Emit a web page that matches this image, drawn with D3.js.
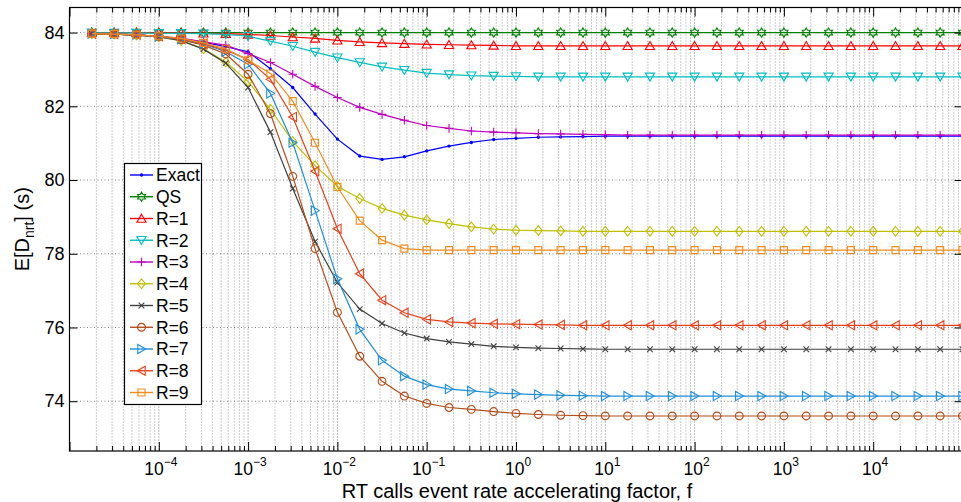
<!DOCTYPE html>
<html>
<head>
<meta charset="utf-8">
<script src="https://cdn.jsdelivr.net/npm/d3@7"></script>
<style>
  html, body { margin: 0; padding: 0; background: #fff; }
  svg { display: block; font-family: "Liberation Sans", Arial, Helvetica, sans-serif; }
</style>
</head>
<body>
<svg id="chart" width="961" height="502"></svg>
<script>
// Accelerating factor f, as base-10 exponents (one point every quarter decade)
const fExp = [-4.75,-4.5,-4.25,-4,-3.75,-3.5,-3.25,-3,-2.75,-2.5,
              -2.25,-2,-1.75,-1.5,-1.25,-1,-0.75,-0.5,-0.25,0,
              0.25,0.5,0.75,1,1.25,1.5,1.75,2,2.25,2.5,
              2.75,3,3.25,3.5,3.75,4,4.25,4.5,4.75,5];

// E[D_nrt] in seconds, one array per curve
const exact = [83.97,83.96,83.94,83.90,83.83,83.74,83.62,83.48,83.02,82.51,
               81.79,81.11,80.65,80.56,80.63,80.79,80.92,81.02,81.10,81.13,
               81.16,81.17,81.18,81.19,81.19,81.19,81.19,81.19,81.19,81.19,
               81.19,81.19,81.19,81.19,81.19,81.19,81.19,81.19,81.19,81.19];
const qs    = [84.00,84.00,84.00,84.00,84.00,84.00,84.00,84.00,84.00,84.00,
               84.00,84.00,84.00,84.00,84.00,84.00,84.00,84.00,84.00,84.00,
               84.00,84.00,84.00,84.00,84.00,84.00,84.00,84.00,84.00,84.00,
               84.00,84.00,84.00,84.00,84.00,84.00,84.00,84.00,84.00,84.00];
const r1    = [84.00,84.00,84.00,83.99,83.99,83.98,83.97,83.95,83.92,83.88,
               83.84,83.79,83.75,83.72,83.70,83.68,83.67,83.66,83.65,83.64,
               83.64,83.64,83.64,83.64,83.64,83.64,83.64,83.64,83.64,83.64,
               83.64,83.64,83.64,83.64,83.64,83.64,83.64,83.64,83.64,83.64];
const r2    = [83.99,83.99,83.99,83.98,83.98,83.97,83.95,83.90,83.77,83.63,
               83.47,83.32,83.19,83.07,82.98,82.90,82.86,82.83,82.82,82.81,
               82.80,82.80,82.80,82.80,82.80,82.80,82.80,82.80,82.80,82.80,
               82.80,82.80,82.80,82.80,82.80,82.80,82.80,82.80,82.80,82.80];
const r3    = [83.97,83.96,83.94,83.90,83.85,83.75,83.66,83.43,83.19,82.87,
               82.54,82.24,81.97,81.78,81.62,81.48,81.40,81.33,81.30,81.28,
               81.26,81.25,81.24,81.23,81.22,81.22,81.22,81.22,81.22,81.22,
               81.22,81.22,81.22,81.22,81.22,81.22,81.22,81.22,81.22,81.22];
const r4    = [83.97,83.96,83.93,83.88,83.78,83.56,83.20,82.67,81.92,81.05,
               80.39,79.83,79.50,79.23,79.05,78.92,78.82,78.73,78.67,78.64,
               78.63,78.62,78.61,78.61,78.61,78.61,78.61,78.61,78.61,78.61,
               78.61,78.61,78.61,78.61,78.61,78.61,78.61,78.61,78.61,78.61];
const r5    = [83.97,83.96,83.93,83.88,83.78,83.55,83.17,82.51,81.30,79.77,
               78.33,77.22,76.50,76.11,75.85,75.70,75.61,75.55,75.49,75.46,
               75.44,75.43,75.42,75.41,75.41,75.41,75.41,75.41,75.41,75.41,
               75.41,75.41,75.41,75.41,75.41,75.41,75.41,75.41,75.41,75.41];
const r6    = [83.97,83.96,83.94,83.89,83.81,83.66,83.42,82.87,81.80,80.10,
               78.14,76.41,75.22,74.54,74.14,73.94,73.83,73.78,73.72,73.67,
               73.64,73.62,73.61,73.60,73.60,73.60,73.60,73.60,73.60,73.60,
               73.60,73.60,73.60,73.60,73.60,73.60,73.60,73.60,73.60,73.60];
const r7    = [83.97,83.96,83.94,83.89,83.82,83.69,83.48,83.14,82.35,81.01,
               79.17,77.32,75.95,75.11,74.68,74.45,74.33,74.28,74.23,74.20,
               74.18,74.16,74.15,74.14,74.14,74.14,74.14,74.14,74.14,74.14,
               74.14,74.14,74.14,74.14,74.14,74.14,74.14,74.14,74.14,74.14];
const r8    = [83.97,83.96,83.94,83.90,83.83,83.70,83.52,83.27,82.73,81.71,
               80.24,78.68,77.46,76.74,76.40,76.22,76.15,76.12,76.10,76.09,
               76.08,76.07,76.06,76.06,76.06,76.06,76.06,76.06,76.06,76.06,
               76.06,76.06,76.06,76.06,76.06,76.06,76.06,76.06,76.06,76.06];
const r9    = [83.97,83.96,83.94,83.90,83.84,83.72,83.56,83.25,82.89,82.14,
               81.01,79.81,78.90,78.37,78.14,78.10,78.10,78.10,78.10,78.10,
               78.10,78.10,78.10,78.10,78.10,78.10,78.10,78.10,78.10,78.10,
               78.10,78.10,78.10,78.10,78.10,78.10,78.10,78.10,78.10,78.10];

const seriesNames  = ["Exact","QS","R=1","R=2","R=3","R=4","R=5","R=6","R=7","R=8","R=9"];
const seriesValues = [exact, qs, r1, r2, r3, r4, r5, r6, r7, r8, r9];

// Axis ticks
const xTickExp = [-4,-3,-2,-1,0,1,2,3,4];
const yTicks   = [74,76,78,80,82,84];
const xLabel = "RT calls event rate accelerating factor, f";

// Per-curve styling
const colors  = ["#0000ff","#008000","#ff0000","#00bfbf","#bf00bf","#bfbf00",
                 "#404040","#b34d1a","#1f8fd6","#e6401a","#f08c1a"];
const markers = ["dot","hexagram","triUp","triDown","plus","diamond",
                 "cross","circle","triRight","triLeft","square"];

// ---------- layout ----------
const svg = d3.select("#chart");
const L = 69.5, R = 962.5, T = 7.5, B = 451;

const x = d3.scaleLog().domain([1e-5, 1e5]).range([L, R]);
const y = d3.scaleLinear().domain([72.65, 84.68]).range([B, T]);

// marker outlines, centred on the origin
function circlePath(r) {
  return `M${r},0A${r},${r} 0 1,1 ${-r},0A${r},${r} 0 1,1 ${r},0Z`;
}
function markerPath(type) {
  switch (type) {
    case "dot":      return circlePath(1.7);
    case "circle":   return circlePath(3.9);
    case "square":   return "M-3.5,-3.5H3.5V3.5H-3.5Z";
    case "diamond":  return "M0,-4.8L3.8,0L0,4.8L-3.8,0Z";
    case "triUp":    return "M0,-4.3L4.6,3.7L-4.6,3.7Z";
    case "triDown":  return "M0,4.3L4.6,-3.7L-4.6,-3.7Z";
    case "triLeft":  return "M-4.3,0L3.7,4.6L3.7,-4.6Z";
    case "triRight": return "M4.3,0L-3.7,4.6L-3.7,-4.6Z";
    case "plus":     return "M-4.3,0H4.3M0,-4.3V4.3";
    case "cross":    return "M-2.8,-2.8L2.8,2.8M-2.8,2.8L2.8,-2.8";
    case "hexagram": {
      const pts = [];
      for (let k = 0; k < 12; k++) {
        const r = k % 2 === 0 ? 4.6 : 2.66;
        const a = -Math.PI / 2 + k * Math.PI / 6;
        pts.push([r * Math.cos(a), r * Math.sin(a)]);
      }
      return "M" + pts.map(p => p[0].toFixed(2) + "," + p[1].toFixed(2)).join("L") + "Z";
    }
  }
}
function drawMarker(g, type, color) {
  g.append("path")
    .attr("d", markerPath(type))
    .attr("fill", type === "dot" ? color : "none")
    .attr("stroke", color)
    .attr("stroke-width", type === "dot" ? 0 : 1.1);
}

// ---------- grid ----------
const grid = svg.append("g");
const minorVals = [];
for (let e = -5; e < 5; e++) for (let m = 2; m <= 9; m++) minorVals.push(m * Math.pow(10, e));
const majorVals = d3.range(-5, 6).map(e => Math.pow(10, e));

grid.selectAll(".gminor").data(minorVals).join("line")
  .attr("x1", d => x(d)).attr("x2", d => x(d))
  .attr("y1", T).attr("y2", B)
  .attr("stroke", "#9a9a9a").attr("stroke-width", 1)
  .attr("stroke-dasharray", "1,2");
grid.selectAll(".gmajor").data(majorVals).join("line")
  .attr("x1", d => x(d)).attr("x2", d => x(d))
  .attr("y1", T).attr("y2", B)
  .attr("stroke", "#7a7a7a").attr("stroke-width", 1)
  .attr("stroke-dasharray", "1,2");
grid.selectAll(".gy").data(yTicks).join("line")
  .attr("x1", L).attr("x2", R)
  .attr("y1", d => y(d)).attr("y2", d => y(d))
  .attr("stroke", "#808080").attr("stroke-width", 1)
  .attr("stroke-dasharray", "1,2.5");

// ---------- curves ----------
const plot = svg.append("g");
const line = d3.line().x(d => x(d[0])).y(d => y(d[1]));

seriesValues.forEach((vals, i) => {
  const pts = fExp.map((e, k) => [Math.pow(10, e), vals[k]]);
  const g = plot.append("g");
  g.append("path")
    .attr("d", line(pts))
    .attr("fill", "none")
    .attr("stroke", colors[i])
    .attr("stroke-width", 1.2);
  pts.forEach(p => {
    const mg = g.append("g").attr("transform", `translate(${x(p[0])},${y(p[1])})`);
    drawMarker(mg, markers[i], colors[i]);
  });
});

// ---------- axes ----------
const axes = svg.append("g");
const tickStyle = sel => {
  sel.select(".domain").remove();
  sel.selectAll(".tick line").attr("stroke", "#000").attr("stroke-width", 1);
};

// bottom / top: major and minor ticks pointing inward
axes.append("g").attr("transform", `translate(0,${B})`)
  .call(d3.axisBottom(x).tickValues(majorVals).tickSize(-9).tickFormat(""))
  .call(tickStyle);
axes.append("g").attr("transform", `translate(0,${B})`)
  .call(d3.axisBottom(x).tickValues(minorVals).tickSize(-5).tickFormat(""))
  .call(tickStyle);
axes.append("g").attr("transform", `translate(0,${T})`)
  .call(d3.axisTop(x).tickValues(majorVals).tickSize(-9).tickFormat(""))
  .call(tickStyle);
axes.append("g").attr("transform", `translate(0,${T})`)
  .call(d3.axisTop(x).tickValues(minorVals).tickSize(-5).tickFormat(""))
  .call(tickStyle);

// left / right
const yAxisL = axes.append("g").attr("transform", `translate(${L},0)`)
  .call(d3.axisLeft(y).tickValues(yTicks).tickSize(-8).tickPadding(5).tickFormat(d3.format("d")))
  .call(tickStyle);
yAxisL.selectAll(".tick text")
  .attr("font-size", 18).attr("fill", "#000")
  .attr("font-family", "'Liberation Sans', Arial, sans-serif");
axes.append("g").attr("transform", `translate(${R},0)`)
  .call(d3.axisRight(y).tickValues(yTicks).tickSize(-8).tickFormat(""))
  .call(tickStyle);

// plot box
axes.append("rect")
  .attr("x", L).attr("y", T).attr("width", R - L).attr("height", B - T)
  .attr("fill", "none").attr("stroke", "#000").attr("stroke-width", 1.2);

// x tick labels as powers of ten
const xl = axes.selectAll(".xlab").data(xTickExp).join("text")
  .attr("x", d => x(Math.pow(10, d)) + 2)
  .attr("y", 475)
  .attr("text-anchor", "middle")
  .attr("font-size", 17.5)
  .attr("fill", "#000");
xl.append("tspan").text("10");
xl.append("tspan")
  .attr("dy", -9.5)
  .attr("font-size", 12)
  .text(d => (d < 0 ? "\u2212" : "") + Math.abs(d));

// axis titles
svg.append("text")
  .attr("x", 517).attr("y", 497.5)
  .attr("text-anchor", "middle")
  .attr("font-size", 20)
  .attr("fill", "#000")
  .text(xLabel);

const yl = svg.append("text")
  .attr("transform", `translate(29,${(T + B) / 2}) rotate(-90)`)
  .attr("text-anchor", "middle")
  .attr("font-size", 20)
  .attr("fill", "#000");
yl.append("tspan").text("E[D");
yl.append("tspan").attr("font-size", 14).attr("dy", 5).text("nrt");
yl.append("tspan").attr("dy", -5).text("] (s)");

// ---------- legend ----------
const lg = svg.append("g");
lg.append("rect")
  .attr("x", 124.5).attr("y", 163.5).attr("width", 77).attr("height", 241)
  .attr("fill", "#fff").attr("stroke", "#000").attr("stroke-width", 1.2);
seriesNames.forEach((name, i) => {
  const cy = 175 + i * 21.75;
  const row = lg.append("g").attr("transform", `translate(0,${cy})`);
  row.append("line")
    .attr("x1", 130).attr("x2", 153).attr("y1", 0).attr("y2", 0)
    .attr("stroke", colors[i]).attr("stroke-width", 1.4);
  drawMarker(row.append("g").attr("transform", "translate(141.5,0)"), markers[i], colors[i]);
  row.append("text")
    .attr("x", 156).attr("y", 0).attr("dy", "0.36em")
    .attr("font-size", 17.5).attr("fill", "#000")
    .text(name);
});
</script>
</body>
</html>
